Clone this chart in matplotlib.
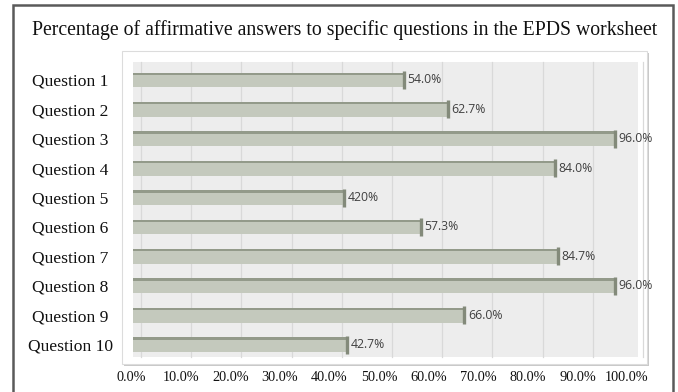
import matplotlib
matplotlib.use("Agg")
import matplotlib.pyplot as plt
from matplotlib.patches import Rectangle
from matplotlib.transforms import ScaledTranslation

categories = ["Question 1", "Question 2", "Question 3", "Question 4", "Question 5",
              "Question 6", "Question 7", "Question 8", "Question 9", "Question 10"]
values = [54.0, 62.7, 96.0, 84.0, 42.0, 57.3, 84.7, 96.0, 66.0, 42.7]
value_labels = ["54.0%", "62.7%", "96.0%", "84.0%", "420%",
                "57.3%", "84.7%", "96.0%", "66.0%", "42.7%"]
x_ticks = [0, 10, 20, 30, 40, 50, 60, 70, 80, 90, 100]
x_tick_labels = ["0.0%", "10.0%", "20.0%", "30.0%", "40.0%", "50.0%",
                 "60.0%", "70.0%", "80.0%", "90.0%", "100.0%"]
title = "Percentage of affirmative answers to specific questions in the EPDS worksheet"

W, H = 678, 392
fig = plt.figure(figsize=(W / 100, H / 100), dpi=100)
fig.patch.set_facecolor("white")

def fx(px):
    return px / W

def fy(py):
    return 1 - py / H

# outer frame
fig.patches.append(Rectangle((fx(13), fy(400)), fx(673) - fx(13), fy(4.5) - fy(400),
                             transform=fig.transFigure, fill=False,
                             edgecolor="#5a5a5a", linewidth=1.8, zorder=0))
# inner panel shadow + panel
fig.patches.append(Rectangle((fx(124), fy(366)), fx(649) - fx(124), fy(53) - fy(366),
                             transform=fig.transFigure, facecolor="#c8c8c8",
                             edgecolor="none", zorder=0))
fig.patches.append(Rectangle((fx(122), fy(364)), fx(647) - fx(122), fy(51) - fy(364),
                             transform=fig.transFigure, facecolor="white",
                             edgecolor="#dcdcdc", linewidth=0.8, zorder=0))

fig.text(fx(345), fy(30), title, ha="center", va="center",
         family="Liberation Serif", fontsize=14.2, color="#111111")

ax = fig.add_axes([fx(133), fy(357), fx(638) - fx(133), fy(62) - fy(357)])
ax.set_zorder(5)
ax.set_facecolor("#ededed")
ax.set_xlim(0, 100.6)
ax.set_ylim(9.42, -0.61)
for s in ax.spines.values():
    s.set_visible(False)

# back-wall gridlines (offset by depth)
shift = ScaledTranslation(8 / 100, 0, fig.dpi_scale_trans)
for t in x_ticks:
    ax.plot([t, t], [0, 1], color="#d9d9d9", linewidth=0.9, zorder=1,
            transform=ax.get_xaxis_transform() + shift, clip_on=False)

ypos = list(range(len(categories)))
bh = 0.5
ax.barh(ypos, values, height=bh, color="#c4c9bd", edgecolor="none", zorder=3)
# darker top face
ax.barh([y - bh / 2 + 0.04 for y in ypos], values, height=0.08,
        color="#939a8a", edgecolor="none", zorder=4)
# darker right end
ax.plot(values, ypos, linestyle="none", marker="|", markersize=13,
        markeredgewidth=2.4, color="#838a7a", zorder=5)

for v, y, lab in zip(values, ypos, value_labels):
    ax.annotate(lab, (v, y), xytext=(2.5, 0), textcoords="offset points",
                ha="left", va="center", family="Open Sans", fontsize=8.8,
                color="#404040", zorder=6)

ax.set_yticks(ypos)
ax.set_yticklabels(categories, family="Liberation Serif", fontsize=12.6,
                   color="#111111", ha="center")
ax.tick_params(axis="y", length=0, pad=45)

ax.set_xticks(x_ticks)
ax.set_xticklabels(x_tick_labels, family="Liberation Serif", fontsize=10.3,
                   color="#111111")
ax.tick_params(axis="x", length=0, pad=10)
# the category-axis labels sit slightly tighter than the bar scale
for t, lab in zip(x_ticks, ax.get_xticklabels()):
    dx = (-2 - 0.06 * t) / 100
    lab.set_transform(lab.get_transform() + ScaledTranslation(dx, 0, fig.dpi_scale_trans))

fig.savefig("out.png", dpi=100)
